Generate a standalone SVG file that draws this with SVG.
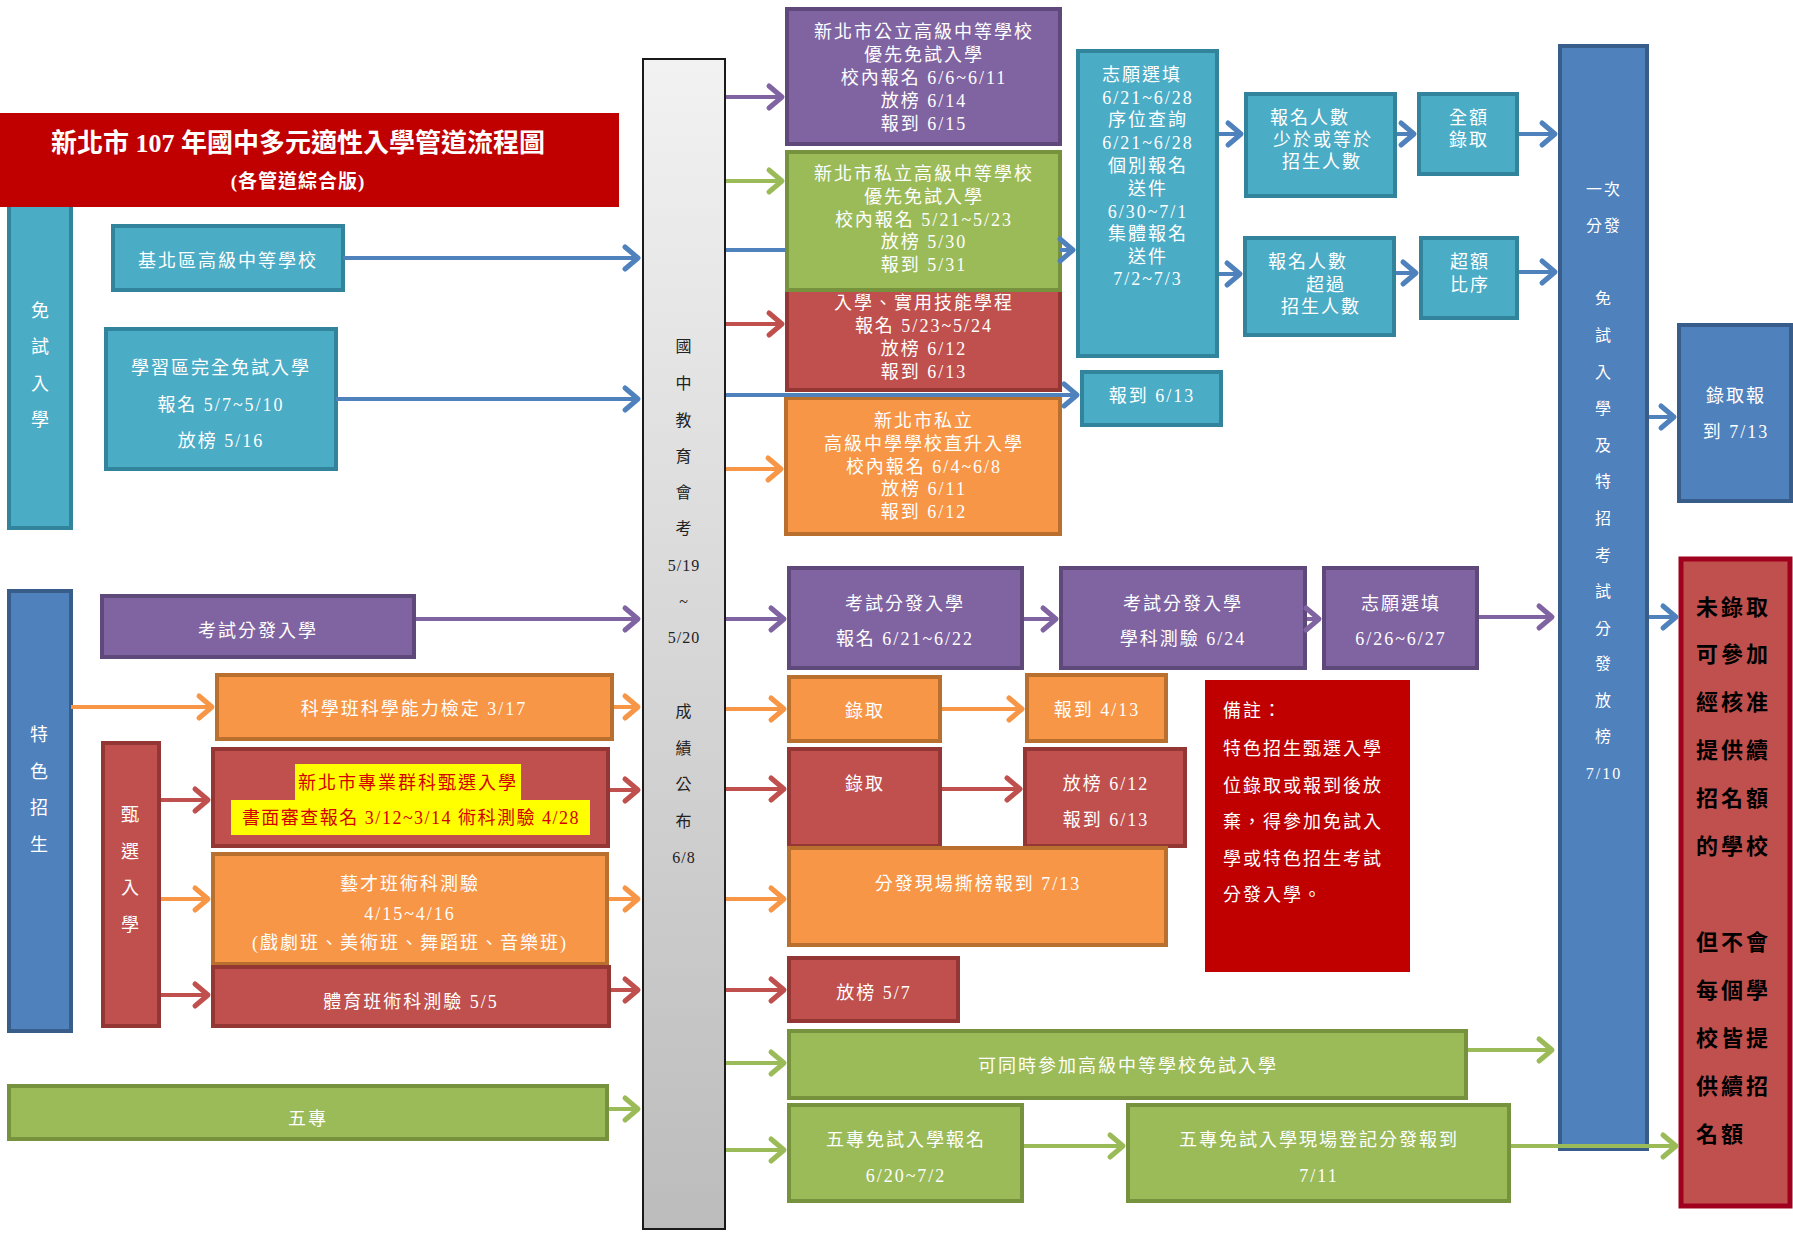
<svg xmlns="http://www.w3.org/2000/svg" width="1793" height="1233" viewBox="0 0 1793 1233">
<defs>
<linearGradient id="gbar" x1="0" y1="0" x2="0" y2="1"><stop offset="0" stop-color="#f2f2f2"/><stop offset="1" stop-color="#bcbcbc"/></linearGradient>
<marker id="mb" markerUnits="userSpaceOnUse" markerWidth="24" markerHeight="30" viewBox="0 0 24 30" refX="18" refY="15" orient="auto"><path d="M5,4 L18,15 L5,26" fill="none" stroke="#4f81bd" stroke-width="5" stroke-linecap="round" stroke-linejoin="round"/></marker>
<marker id="mp" markerUnits="userSpaceOnUse" markerWidth="24" markerHeight="30" viewBox="0 0 24 30" refX="18" refY="15" orient="auto"><path d="M5,4 L18,15 L5,26" fill="none" stroke="#8064a2" stroke-width="5" stroke-linecap="round" stroke-linejoin="round"/></marker>
<marker id="mg" markerUnits="userSpaceOnUse" markerWidth="24" markerHeight="30" viewBox="0 0 24 30" refX="18" refY="15" orient="auto"><path d="M5,4 L18,15 L5,26" fill="none" stroke="#9bbb59" stroke-width="5" stroke-linecap="round" stroke-linejoin="round"/></marker>
<marker id="mr" markerUnits="userSpaceOnUse" markerWidth="24" markerHeight="30" viewBox="0 0 24 30" refX="18" refY="15" orient="auto"><path d="M5,4 L18,15 L5,26" fill="none" stroke="#c0504d" stroke-width="5" stroke-linecap="round" stroke-linejoin="round"/></marker>
<marker id="mo" markerUnits="userSpaceOnUse" markerWidth="24" markerHeight="30" viewBox="0 0 24 30" refX="18" refY="15" orient="auto"><path d="M5,4 L18,15 L5,26" fill="none" stroke="#f79646" stroke-width="5" stroke-linecap="round" stroke-linejoin="round"/></marker>
</defs>
<style>
.t{font-family:"Liberation Serif","Noto Sans CJK TC",serif;font-size:18px;fill:#fff;text-anchor:middle;dominant-baseline:central;letter-spacing:2px}
.s{text-anchor:start}
.teal{fill:#4bacc6;stroke:#31849b;stroke-width:4}
.purple{fill:#8064a2;stroke:#5f497a;stroke-width:4}
.green{fill:#9bbb59;stroke:#76923c;stroke-width:4}
.red{fill:#c0504d;stroke:#943634;stroke-width:4}
.orange{fill:#f79646;stroke:#b9702f;stroke-width:4}
.blue{fill:#4f81bd;stroke:#385d8a;stroke-width:4}
.c{fill:none;stroke-width:4}
.cb{stroke:#4f81bd}.cp{stroke:#8064a2}.cg{stroke:#9bbb59}.cr{stroke:#c0504d}.co{stroke:#f79646}
</style>
<rect width="1793" height="1233" fill="#fff"/>

<g id="n-mianshi"><rect class="teal" x="9" y="190" width="62" height="338"/>
<text class="t" x="41"><tspan x="41" y="311">免</tspan><tspan x="41" y="347">試</tspan><tspan x="41" y="384">入</tspan><tspan x="41" y="420">學</tspan></text></g>

<g id="n-title"><rect x="0" y="113" width="619" height="94" fill="#c00000"/>
<text class="t" x="298" y="143" style="font-size:26px;font-weight:bold;letter-spacing:0">新北市 107 年國中多元適性入學管道流程圖</text>
<text class="t" x="298" y="181" style="font-size:19px;font-weight:bold;letter-spacing:1px">(各管道綜合版)</text></g>

<g id="n-jibei"><rect class="teal" x="113" y="226" width="230" height="64"/><text class="t" x="228" y="261">基北區高級中等學校</text></g>
<g id="n-xuexiqu"><rect class="teal" x="106" y="329" width="230" height="140"/>
<text class="t" x="221" y="368">學習區完全免試入學</text><text class="t" x="221" y="405">報名 5/7~5/10</text><text class="t" x="221" y="441">放榜 5/16</text></g>

<g id="n-exam"><rect x="643" y="59" width="82" height="1170" fill="url(#gbar)" stroke="#1a1a1a" stroke-width="2"/>
<text class="t" style="fill:#222;font-size:16px;letter-spacing:1px"><tspan x="684" y="346">國</tspan><tspan x="684" y="383">中</tspan><tspan x="684" y="420">教</tspan><tspan x="684" y="456">育</tspan><tspan x="684" y="492">會</tspan><tspan x="684" y="528">考</tspan><tspan x="684" y="565">5/19</tspan><tspan x="684" y="601">~</tspan><tspan x="684" y="637">5/20</tspan><tspan x="684" y="711">成</tspan><tspan x="684" y="748">績</tspan><tspan x="684" y="784">公</tspan><tspan x="684" y="821">布</tspan><tspan x="684" y="857">6/8</tspan></text></g>

<g id="n-gongli"><rect class="purple" x="787" y="9" width="273" height="135"/>
<text class="t" x="924" y="32">新北市公立高級中等學校</text><text class="t" x="924" y="55">優先免試入學</text><text class="t" x="924" y="78">校內報名 6/6~6/11</text><text class="t" x="924" y="101">放榜 6/14</text><text class="t" x="924" y="124">報到 6/15</text></g>

<g id="n-jiaoji"><rect class="red" x="787" y="284" width="273" height="106"/>
<text class="t" x="924" y="303">入學、實用技能學程</text><text class="t" x="924" y="326">報名 5/23~5/24</text><text class="t" x="924" y="349">放榜 6/12</text><text class="t" x="924" y="372">報到 6/13</text></g>

<g id="n-sili"><rect class="green" x="787" y="152" width="273" height="138"/>
<text class="t" x="924" y="174">新北市私立高級中等學校</text><text class="t" x="924" y="197">優先免試入學</text><text class="t" x="924" y="220">校內報名 5/21~5/23</text><text class="t" x="924" y="242">放榜 5/30</text><text class="t" x="924" y="265">報到 5/31</text></g>

<g id="n-zhisheng"><rect class="orange" x="786" y="398" width="274" height="136"/>
<text class="t" x="924" y="421">新北市私立</text><text class="t" x="924" y="444">高級中學學校直升入學</text><text class="t" x="924" y="467">校內報名 6/4~6/8</text><text class="t" x="924" y="489">放榜 6/11</text><text class="t" x="924" y="512">報到 6/12</text></g>

<g id="n-baodao613"><rect class="teal" x="1082" y="372" width="139" height="53"/><text class="t" x="1152" y="396">報到 6/13</text></g>

<g id="n-zhiyuan"><rect class="teal" x="1078" y="51" width="139" height="305"/>
<text class="t" x="1142" y="75">志願選填</text><text class="t" x="1148" y="98">6/21~6/28</text><text class="t" x="1148" y="120">序位查詢</text><text class="t" x="1148" y="143">6/21~6/28</text><text class="t" x="1148" y="166">個別報名</text><text class="t" x="1148" y="189">送件</text><text class="t" x="1148" y="212">6/30~7/1</text><text class="t" x="1148" y="234">集體報名</text><text class="t" x="1148" y="257">送件</text><text class="t" x="1148" y="279">7/2~7/3</text></g>

<g id="n-shaoyu"><rect class="teal" x="1246" y="94" width="149" height="102"/>
<text class="t" x="1310" y="118">報名人數</text><text class="t" x="1323" y="140">少於或等於</text><text class="t" x="1322" y="162">招生人數</text></g>
<g id="n-quane"><rect class="teal" x="1419" y="94" width="98" height="80"/><text class="t" x="1469" y="118">全額</text><text class="t" x="1469" y="140">錄取</text></g>
<g id="n-chaoguo"><rect class="teal" x="1245" y="238" width="149" height="97"/>
<text class="t" x="1308" y="262">報名人數</text><text class="t" x="1326" y="285">超過</text><text class="t" x="1321" y="307">招生人數</text></g>
<g id="n-chaoe"><rect class="teal" x="1421" y="238" width="96" height="80"/><text class="t" x="1470" y="262">超額</text><text class="t" x="1470" y="285">比序</text></g>

<g id="n-fenfa"><rect class="blue" x="1560" y="46" width="87" height="1103"/>
<text class="t" style="font-size:16px"><tspan x="1604" y="189">一次</tspan><tspan x="1604" y="225">分發</tspan><tspan x="1604" y="298">免</tspan><tspan x="1604" y="335">試</tspan><tspan x="1604" y="372">入</tspan><tspan x="1604" y="408">學</tspan><tspan x="1604" y="445">及</tspan><tspan x="1604" y="481">特</tspan><tspan x="1604" y="518">招</tspan><tspan x="1604" y="555">考</tspan><tspan x="1604" y="591">試</tspan><tspan x="1604" y="628">分</tspan><tspan x="1604" y="663">發</tspan><tspan x="1604" y="700">放</tspan><tspan x="1604" y="736">榜</tspan><tspan x="1604" y="773">7/10</tspan></text></g>

<g id="n-luqu713"><rect class="blue" x="1679" y="325" width="112" height="176"/><text class="t" x="1736" y="396">錄取報</text><text class="t" x="1736" y="432">到 7/13</text></g>

<g id="n-weiluqu"><rect x="1681" y="559" width="109" height="647" fill="#c0504d" stroke="#a0001e" stroke-width="5"/>
<text class="t s" style="fill:#000;font-size:22px;font-weight:bold;letter-spacing:3px"><tspan x="1696" y="607">未錄取</tspan><tspan x="1696" y="654">可參加</tspan><tspan x="1696" y="702">經核准</tspan><tspan x="1696" y="750">提供續</tspan><tspan x="1696" y="798">招名額</tspan><tspan x="1696" y="846">的學校</tspan><tspan x="1696" y="942">但不會</tspan><tspan x="1696" y="990">每個學</tspan><tspan x="1696" y="1038">校皆提</tspan><tspan x="1696" y="1086">供續招</tspan><tspan x="1696" y="1134">名額</tspan></text></g>

<g id="n-tese"><rect class="blue" x="9" y="591" width="62" height="440"/>
<text class="t"><tspan x="40" y="735">特</tspan><tspan x="40" y="772">色</tspan><tspan x="40" y="808">招</tspan><tspan x="40" y="845">生</tspan></text></g>
<g id="n-kaoshi-l"><rect class="purple" x="102" y="596" width="312" height="61"/><text class="t" x="258" y="631">考試分發入學</text></g>
<g id="n-kexue"><rect class="orange" x="217" y="675" width="395" height="64"/><text class="t" x="414" y="709">科學班科學能力檢定 3/17</text></g>
<g id="n-zhenxuan"><rect class="red" x="103" y="743" width="56" height="283"/>
<text class="t"><tspan x="131" y="815">甄</tspan><tspan x="131" y="852">選</tspan><tspan x="131" y="888">入</tspan><tspan x="131" y="925">學</tspan></text></g>
<g id="n-zhuanye"><rect class="red" x="213" y="749" width="395" height="97"/>
<rect x="295" y="764" width="226" height="37" fill="#ffff00"/><rect x="231" y="800" width="359" height="35" fill="#ffff00"/>
<text class="t" x="408" y="783" style="fill:#d40000">新北市專業群科甄選入學</text>
<text class="t" x="411" y="818" style="fill:#d40000;letter-spacing:1.5px">書面審查報名 3/12~3/14  術科測驗 4/28</text></g>
<g id="n-yicai"><rect class="orange" x="213" y="854" width="394" height="110"/>
<text class="t" x="410" y="884">藝才班術科測驗</text><text class="t" x="410" y="914">4/15~4/16</text><text class="t" x="410" y="943">(戲劇班、美術班、舞蹈班、音樂班)</text></g>
<g id="n-tiyu"><rect class="red" x="213" y="967" width="396" height="59"/><text class="t" x="411" y="1002">體育班術科測驗 5/5</text></g>
<g id="n-wuzhuan"><rect class="green" x="9" y="1086" width="598" height="53"/><text class="t" x="308" y="1119">五專</text></g>

<g id="n-k1"><rect class="purple" x="789" y="568" width="233" height="100"/><text class="t" x="905" y="604">考試分發入學</text><text class="t" x="905" y="639">報名 6/21~6/22</text></g>
<g id="n-k2"><rect class="purple" x="1061" y="568" width="244" height="100"/><text class="t" x="1183" y="604">考試分發入學</text><text class="t" x="1183" y="639">學科測驗 6/24</text></g>
<g id="n-k3"><rect class="purple" x="1324" y="568" width="153" height="100"/><text class="t" x="1401" y="604">志願選填</text><text class="t" x="1401" y="639">6/26~6/27</text></g>

<g id="n-luqu-o"><rect class="orange" x="789" y="677" width="151" height="64"/><text class="t" x="865" y="711">錄取</text></g>
<g id="n-bd413"><rect class="orange" x="1027" y="675" width="139" height="66"/><text class="t" x="1097" y="710">報到 4/13</text></g>
<g id="n-luqu-r"><rect class="red" x="789" y="749" width="151" height="97"/><text class="t" x="865" y="784">錄取</text></g>
<g id="n-fb612"><rect class="red" x="1025" y="749" width="160" height="97"/><text class="t" x="1106" y="784">放榜 6/12</text><text class="t" x="1106" y="820">報到 6/13</text></g>
<g id="n-sibang"><rect class="orange" x="789" y="848" width="377" height="97"/><text class="t" x="978" y="884">分發現場撕榜報到 7/13</text></g>
<g id="n-fb57"><rect class="red" x="789" y="958" width="169" height="63"/><text class="t" x="874" y="993">放榜 5/7</text></g>

<g id="n-note"><rect x="1205" y="680" width="205" height="292" fill="#c00000"/>
<text class="t s"><tspan x="1223" y="711">備註：</tspan><tspan x="1223" y="749">特色招生甄選入學</tspan><tspan x="1223" y="786">位錄取或報到後放</tspan><tspan x="1223" y="822">棄，得參加免試入</tspan><tspan x="1223" y="859">學或特色招生考試</tspan><tspan x="1223" y="895">分發入學。</tspan></text></g>

<g id="n-tongshi"><rect class="green" x="789" y="1031" width="677" height="67"/><text class="t" x="1128" y="1066">可同時參加高級中等學校免試入學</text></g>
<g id="n-wz1"><rect class="green" x="789" y="1105" width="233" height="96"/><text class="t" x="906" y="1140">五專免試入學報名</text><text class="t" x="906" y="1176">6/20~7/2</text></g>
<g id="n-wz2"><rect class="green" x="1128" y="1105" width="381" height="96"/><text class="t" x="1319" y="1140">五專免試入學現場登記分發報到</text><text class="t" x="1319" y="1176">7/11</text></g>

<g id="connectors">
<line class="c cb" x1="343" y1="258" x2="638" y2="258" marker-end="url(#mb)"/>
<line class="c cb" x1="336" y1="399" x2="638" y2="399" marker-end="url(#mb)"/>
<line class="c cp" x1="726" y1="97" x2="782" y2="97" marker-end="url(#mp)"/>
<line class="c cg" x1="726" y1="181" x2="782" y2="181" marker-end="url(#mg)"/>
<line class="c cb" x1="726" y1="250" x2="786" y2="250"/>
<line class="c cb" x1="1060" y1="250" x2="1073" y2="250" marker-end="url(#mb)"/>
<line class="c cr" x1="726" y1="324" x2="782" y2="324" marker-end="url(#mr)"/>
<line class="c cb" x1="726" y1="395" x2="1077" y2="395" marker-end="url(#mb)"/>
<line class="c co" x1="726" y1="469" x2="781" y2="469" marker-end="url(#mo)"/>
<line class="c cb" x1="1219" y1="134" x2="1241" y2="134" marker-end="url(#mb)"/>
<line class="c cb" x1="1219" y1="274" x2="1240" y2="274" marker-end="url(#mb)"/>
<line class="c cb" x1="1397" y1="134" x2="1414" y2="134" marker-end="url(#mb)"/>
<line class="c cb" x1="1396" y1="273" x2="1416" y2="273" marker-end="url(#mb)"/>
<line class="c cb" x1="1519" y1="134" x2="1555" y2="134" marker-end="url(#mb)"/>
<line class="c cb" x1="1519" y1="272" x2="1555" y2="272" marker-end="url(#mb)"/>
<line class="c cb" x1="1649" y1="417" x2="1674" y2="417" marker-end="url(#mb)"/>
<line class="c cb" x1="1649" y1="617" x2="1676" y2="617" marker-end="url(#mb)"/>
<line class="c cp" x1="416" y1="619" x2="638" y2="619" marker-end="url(#mp)"/>
<line class="c co" x1="71" y1="707" x2="212" y2="707" marker-end="url(#mo)"/>
<line class="c co" x1="614" y1="707" x2="638" y2="707" marker-end="url(#mo)"/>
<line class="c cr" x1="161" y1="800" x2="208" y2="800" marker-end="url(#mr)"/>
<line class="c cr" x1="610" y1="790" x2="638" y2="790" marker-end="url(#mr)"/>
<line class="c co" x1="161" y1="899" x2="208" y2="899" marker-end="url(#mo)"/>
<line class="c co" x1="609" y1="899" x2="638" y2="899" marker-end="url(#mo)"/>
<line class="c cr" x1="161" y1="995" x2="208" y2="995" marker-end="url(#mr)"/>
<line class="c cr" x1="611" y1="990" x2="638" y2="990" marker-end="url(#mr)"/>
<line class="c cg" x1="609" y1="1109" x2="638" y2="1109" marker-end="url(#mg)"/>
<line class="c cp" x1="726" y1="619" x2="784" y2="619" marker-end="url(#mp)"/>
<line class="c cp" x1="1024" y1="619" x2="1056" y2="619" marker-end="url(#mp)"/>
<line class="c cp" x1="1307" y1="619" x2="1319" y2="619" marker-end="url(#mp)"/>
<line class="c cp" x1="1479" y1="617" x2="1552" y2="617" marker-end="url(#mp)"/>
<line class="c co" x1="726" y1="709" x2="784" y2="709" marker-end="url(#mo)"/>
<line class="c co" x1="942" y1="709" x2="1022" y2="709" marker-end="url(#mo)"/>
<line class="c cr" x1="726" y1="789" x2="784" y2="789" marker-end="url(#mr)"/>
<line class="c cr" x1="942" y1="789" x2="1020" y2="789" marker-end="url(#mr)"/>
<line class="c co" x1="726" y1="899" x2="784" y2="899" marker-end="url(#mo)"/>
<line class="c cr" x1="726" y1="990" x2="784" y2="990" marker-end="url(#mr)"/>
<line class="c cg" x1="726" y1="1063" x2="784" y2="1063" marker-end="url(#mg)"/>
<line class="c cg" x1="1468" y1="1050" x2="1552" y2="1050" marker-end="url(#mg)"/>
<line class="c cg" x1="726" y1="1150" x2="784" y2="1150" marker-end="url(#mg)"/>
<line class="c cg" x1="1024" y1="1146" x2="1123" y2="1146" marker-end="url(#mg)"/>
<line class="c cg" x1="1511" y1="1146" x2="1676" y2="1146" marker-end="url(#mg)"/>
</g>
</svg>
